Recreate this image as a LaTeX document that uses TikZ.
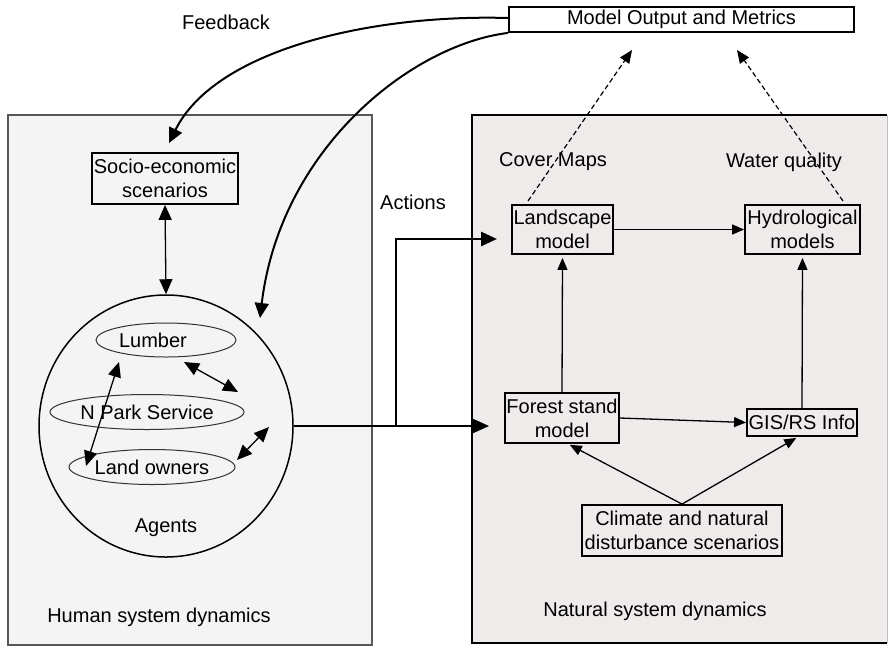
\documentclass[tikz,border=0pt]{standalone}
\usepackage{fontspec}
\setmainfont{Liberation Sans}
\usetikzlibrary{arrows.meta,shapes.geometric,calc}
\definecolor{leftbg}{HTML}{F4F4F4}
\definecolor{rightbg}{HTML}{EFEBEB}
\begin{document}
\begin{tikzpicture}[x=1pt,y=-1pt,
  font=\fontsize{20}{24}\selectfont,
  box/.style={draw,line width=1.8pt,inner sep=0pt,align=center},
  agent/.style={draw=black!80,ellipse,line width=1pt,inner sep=0pt},
  lbl/.style={inner sep=0pt},
  thinarrow/.style={line width=1.3pt,-{Triangle[length=12pt,width=10pt]}},
  dblarrow/.style={line width=1.3pt,{Triangle[length=15pt,width=13pt]}-{Triangle[length=15pt,width=13pt]}},
  curvearrow/.style={line width=2pt,-{Triangle[length=15pt,width=14pt]}},
  dasharrow/.style={line width=1.2pt,dash pattern=on 5pt off 3pt,-{Triangle[length=13pt,width=11pt]}},
  actarrow/.style={-{Triangle[length=16pt,width=14pt]}}
]
\useasboundingbox (0,0) rectangle (890,646);
% panels
\filldraw[fill=leftbg,draw=black!65,line width=1.2pt] (8,115) rectangle (372,645);
\fill[rightbg] (472,115) rectangle (887,643);
\draw[black!25,line width=1pt] (887,115) -- (887,643);
\draw[line width=2pt] (887,115) -- (472,115) -- (472,643) -- (887,643);

% nodes
\node[box,fill=white,minimum width=345pt,minimum height=25pt] (out) at (681.5,19.5) {Model Output and Metrics};
\node[box,minimum width=146pt,minimum height=51pt] (socio) at (165,178.5) {Socio-economic\\scenarios};
\node[draw,ellipse,line width=1.5pt,minimum width=254pt,minimum height=262pt,inner sep=0pt] (circ) at (166,426) {};
\node[agent,minimum width=140pt,minimum height=34pt] (lumber) at (166,340) {};
\node[lbl] (lumbertxt) at (153,340) {Lumber};
\node[agent,minimum width=194pt,minimum height=35pt] (nps) at (147,412) {N Park Service};
\node[agent,minimum width=166pt,minimum height=35pt] (owners) at (152,467) {Land owners};
\node[lbl] (agents) at (166,528) {Agents};
\node[lbl] (human) at (159,617) {Human system dynamics};

\node[box,minimum width=101pt,minimum height=49pt] (land) at (562.5,229.5) {Landscape\\model};
\node[box,minimum width=115pt,minimum height=49pt] (hydro) at (802.5,229.5) {Hydrological\\models};
\node[box,minimum width=114pt,minimum height=50pt] (forest) at (562,418) {Forest stand\\model};
\node[box,minimum width=110pt,minimum height=27pt] (gis) at (802,422.5) {GIS/RS Info};
\node[box,minimum width=200pt,minimum height=51pt] (clim) at (682,530.5) {Climate and natural\\disturbance scenarios};
\node[lbl] (natural) at (655,611) {Natural system dynamics};

\node[lbl] (feedback) at (226,22) {Feedback};
\node[lbl] (actions) at (413,202) {Actions};
\node[lbl] (cover) at (553,162) {Cover Maps};
\node[lbl] (water) at (784,162) {Water quality};

% free ends
\coordinate (fbtip) at (169,143);
\coordinate (agtip) at (260,318);
\coordinate (luA) at (119,362);
\coordinate (luB) at (86,466);
\coordinate (lnA) at (184,362);
\coordinate (lnB) at (238,392);
\coordinate (noA) at (237,460);
\coordinate (noB) at (269,427);
\coordinate (split) at (396,426);
\coordinate (actL) at (497,239);
\coordinate (actF) at (489,426);
\coordinate (dashL) at (632,50);
\coordinate (dashH) at (737,50);
\coordinate (landtop) at (528,201);
\coordinate (hydrotop) at (843,201);

% feedback curves
\draw[curvearrow] ([yshift=1.5pt]out.west) .. controls (370,14) and (215,50) .. (fbtip);
\draw[curvearrow] (out.south west) .. controls (410,45) and (280,150) .. (agtip);

% human side arrows
\draw[dblarrow] (socio.south) -- (circ.north);
\draw[dblarrow] (luA) -- (luB);
\draw[dblarrow] (lnA) -- (lnB);
\draw[dblarrow] (noA) -- (noB);

% actions
\draw[line width=1.7pt,actarrow] (circ.east) -- (actF);
\draw[line width=2.8pt,actarrow] (split) |- (actL);

% natural side
\draw[thinarrow] (land.east) -- (hydro.west);
\draw[thinarrow,shorten >=3pt] (forest.north) -- (land.south);
\draw[thinarrow,shorten >=3pt] (gis.north) -- (hydro.south);
\draw[thinarrow] (forest.east) -- (gis.west);
\draw[thinarrow,shorten >=2pt] (clim.north) -- ([xshift=6pt]forest.south);
\draw[thinarrow,shorten >=2pt] (clim.north) -- ([xshift=-4pt]gis.south);
\draw[dasharrow] (landtop) -- (dashL);
\draw[dasharrow] (hydrotop) -- (dashH);
\end{tikzpicture}
\end{document}
